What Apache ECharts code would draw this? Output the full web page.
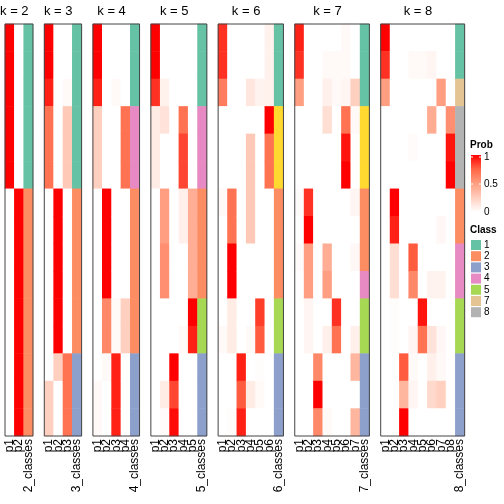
<!DOCTYPE html>
<html><head><meta charset="utf-8">
<script src="https://cdn.jsdelivr.net/npm/echarts@6/dist/echarts.min.js"></script>
<style>html,body{margin:0;padding:0;background:#fff}#c{width:504px;height:504px}</style>
</head><body><div id="c"></div>
<script>
// ---- data (15 samples, rows top to bottom) ----
const kValues = [2, 3, 4, 5, 6, 7, 8];

const k2Prob = [
  [1,1,1,1,1,1,0,0,0,0,0,0,0,0,0],
  [0,0,0,0,0,0,1,1,1,1,1,1,1,1,1]
];
const k2Class = [1,1,1,1,1,1,2,2,2,2,2,2,2,2,2];

const k3Prob = [
  [1,1,0.92,0.7,0.7,0.7,0,0,0,0,0,0,0,0.25,0.25],
  [0,0,0,0,0,0,1,1,1,1,1,1,0.25,0,0],
  [0,0,0.03,0.28,0.28,0.28,0,0,0,0,0,0,0.7,0.7,0.7]
];
const k3Class = [1,1,1,1,1,1,2,2,2,2,2,2,3,3,3];

const k4Prob = [
  [1,1,0.92,0.25,0.25,0.25,0,0,0,0,0,0,0,0.03,0.03],
  [0,0,0,0,0,0,1,1,1,1,0.6,0.6,0.03,0,0],
  [0,0,0.03,0,0,0,0,0,0,0,0.03,0.03,0.92,0.92,0.92],
  [0,0,0,0.7,0.7,0.7,0,0,0,0,0.25,0.25,0,0,0]
];
const k4Class = [1,1,1,4,4,4,2,2,2,2,2,2,3,3,3];

const k5Prob = [
  [1,1,0.88,0.1,0.1,0.1,0,0,0,0,0,0,0,0,0],
  [0,0,0.07,0.15,0,0,0.5,0.5,0.57,0.57,0,0,0,0.1,0.02],
  [0,0,0,0,0,0,0,0,0,0,0,0,1,0.83,0.97],
  [0,0,0,0.7,0.83,0.83,0.08,0.08,0,0,0,0.03,0,0,0],
  [0,0,0,0,0,0,0.42,0.42,0.42,0.42,1,0.92,0,0,0]
];
const k5Class = [1,1,1,4,4,4,2,2,2,2,5,5,3,3,3];

const k6Prob = [
  [0.88,0.88,0.65,0,0,0,0.03,0,0,0,0,0.03,0,0,0],
  [0,0,0,0,0,0,0.7,0.7,1,1,0.1,0.1,0,0,0.01],
  [0,0,0,0,0,0,0,0,0,0,0,0,0.92,0.78,0.92],
  [0,0,0.13,0,0.28,0.28,0.28,0.28,0,0,0,0.03,0,0.1,0],
  [0,0,0.06,0,0,0,0,0,0,0,0.85,0.78,0.01,0.03,0],
  [0.07,0.07,0.07,1,0.7,0.7,0,0,0,0,0,0,0,0,0]
];
const k6Class = [1,1,1,6,6,6,2,2,2,2,5,5,3,3,3];

const k7Prob = [
  [0.92,0.88,0.5,0,0,0,0.02,0,0.02,0,0,0,0,0,0],
  [0,0,0,0,0,0,0.88,1,0.5,0.5,0.05,0.05,0,0,0],
  [0,0,0,0,0,0,0,0,0,0,0,0,0.6,1,0.6],
  [0,0.03,0.08,0.17,0,0,0,0,0.42,0.5,0,0.08,0,0,0.03],
  [0,0.03,0.03,0,0,0,0,0,0,0,0.88,0.7,0,0,0],
  [0.03,0.03,0.05,0.7,0.95,1,0,0,0,0,0,0,0,0,0],
  [0,0,0.25,0.03,0,0,0.05,0,0.04,0,0,0.08,0.38,0,0.38]
];
const k7Class = [1,1,1,6,6,6,2,2,2,4,5,5,3,3,3];

const k8Prob = [
  [1,0.88,0.5,0,0,0,0,0,0,0,0,0,0,0,0],
  [0,0,0,0,0,0,1,0.92,0.17,0.17,0.01,0.01,0,0,0],
  [0,0,0,0,0,0,0,0,0,0,0,0,0.78,0.38,1],
  [0,0.03,0,0,0.02,0,0,0,0.78,0.6,0,0.05,0.03,0.05,0],
  [0,0.03,0,0,0,0,0,0,0,0,0.95,0.7,0,0,0],
  [0,0.05,0,0.43,0,0,0,0,0,0.06,0,0.15,0.08,0.2,0],
  [0,0,0.5,0,0,0,0,0.04,0,0.06,0,0.04,0.03,0.25,0],
  [0,0,0,0.57,0.95,1,0,0,0,0,0,0,0,0,0]
];
const k8Class = [1,1,7,8,8,8,2,2,4,4,5,5,3,3,3];

const legendClasses = ['1','2','3','4','5','7','8'];
const probTicks = ['1','0.5','0'];

// ---- styling ----
const classColors = {1:'#66C2A5',2:'#FC8D62',3:'#8DA0CB',4:'#E78AC3',5:'#A6D854',6:'#FFD92F',7:'#E5C494',8:'#B3B3B3'};
const probStops = ['#FFFFFF','#FFCFBF','#FF9E81','#FF6746','#FF0000'];
const FONT = "'Liberation Sans', Arial, Helvetica, sans-serif";

const panels = [
  {k:2, prob:k2Prob, cls:k2Class},
  {k:3, prob:k3Prob, cls:k3Class},
  {k:4, prob:k4Prob, cls:k4Class},
  {k:5, prob:k5Prob, cls:k5Class},
  {k:6, prob:k6Prob, cls:k6Class},
  {k:7, prob:k7Prob, cls:k7Class},
  {k:8, prob:k8Prob, cls:k8Class}
];

const nRows = 15;
const rowCats = Array.from({length:nRows}, (_, i) => 's' + (i+1));
const W = 9.33, GAP = 11.3, TOP = 24, H = 412;

const grid = [], xAxis = [], yAxis = [], series = [], graphic = [];
const probIdx = [], classIdx = [];
let x0 = 5;
panels.forEach((p, gi) => {
  const ncol = p.prob.length + 1;
  const cats = p.prob.map((_, j) => 'p' + (j+1)).concat([p.k + '_classes']);
  grid.push({left:x0, top:TOP, width:ncol*W, height:H, show:true, borderColor:'#444', borderWidth:1, backgroundColor:'transparent', z:10});
  xAxis.push({type:'category', gridIndex:gi, data:cats, position:'bottom',
    axisLine:{show:false}, axisTick:{show:false}, splitLine:{show:false},
    axisLabel:{rotate:90, interval:0, margin:3, fontSize:12, color:'#000', fontFamily:FONT}});
  yAxis.push({type:'category', gridIndex:gi, data:rowCats, inverse:true, show:false});
  const pd = [];
  p.prob.forEach((col, j) => col.forEach((v, r) => pd.push([j, r, v])));
  probIdx.push(series.length);
  series.push({type:'heatmap', xAxisIndex:gi, yAxisIndex:gi, data:pd, itemStyle:{borderWidth:0}, emphasis:{disabled:true}});
  const cd = p.cls.map((c, r) => [ncol-1, r, c]);
  classIdx.push(series.length);
  series.push({type:'heatmap', xAxisIndex:gi, yAxisIndex:gi, data:cd, itemStyle:{borderWidth:0}, emphasis:{disabled:true}});
  // title centered over the probability columns
  graphic.push({type:'text', left:'auto', x:x0 + p.prob.length*W/2, y:11,
    style:{text:'k = ' + p.k, fill:'#000', font:'13px ' + FONT, textAlign:'center', textVerticalAlign:'middle'}});
  x0 += ncol*W + GAP;
});

// legend: Prob
const LX = 471;
graphic.push({type:'text', x:LX-1, y:145, style:{text:'Prob', fill:'#000', font:'bold 10px ' + FONT, textVerticalAlign:'middle'}});
graphic.push({type:'rect', shape:{x:LX, y:155, width:10, height:57},
  style:{fill:new echarts.graphic.LinearGradient(0,0,0,1, probStops.slice().reverse().map((c,i)=>({offset:i/4, color:c})))}});
[157, 184].forEach(yy => {
  graphic.push({type:'line', shape:{x1:LX, y1:yy, x2:LX+2, y2:yy}, style:{stroke:'#fff', lineWidth:1}});
  graphic.push({type:'line', shape:{x1:LX+8, y1:yy, x2:LX+10, y2:yy}, style:{stroke:'#fff', lineWidth:1}});
});
[157, 184, 212].forEach((yy, i) => {
  graphic.push({type:'text', x:LX+13, y:yy, style:{text:probTicks[i], fill:'#000', font:'10px ' + FONT, textVerticalAlign:'middle'}});
});
// legend: Class
graphic.push({type:'text', x:LX-1, y:230, style:{text:'Class', fill:'#000', font:'bold 10px ' + FONT, textVerticalAlign:'middle'}});
legendClasses.forEach((c, i) => {
  const yy = 240 + i*11.2;
  graphic.push({type:'rect', shape:{x:LX, y:yy, width:10, height:10}, style:{fill:classColors[c]}});
  graphic.push({type:'text', x:LX+13, y:yy+5, style:{text:c, fill:'#000', font:'10px ' + FONT, textVerticalAlign:'middle'}});
});

const chart = echarts.init(document.getElementById('c'), null, {renderer:'canvas'});
chart.setOption({
  animation:false,
  backgroundColor:'#fff',
  textStyle:{fontFamily:FONT},
  grid, xAxis, yAxis, series, graphic,
  visualMap:[
    {type:'continuous', show:false, min:0, max:1, dimension:2, seriesIndex:probIdx, inRange:{color:probStops}},
    {type:'piecewise', show:false, dimension:2, seriesIndex:classIdx,
      categories:[1,2,3,4,5,6,7,8],
      inRange:{color:[1,2,3,4,5,6,7,8].map(c=>classColors[c])}}
  ]
});
</script>
</body></html>
